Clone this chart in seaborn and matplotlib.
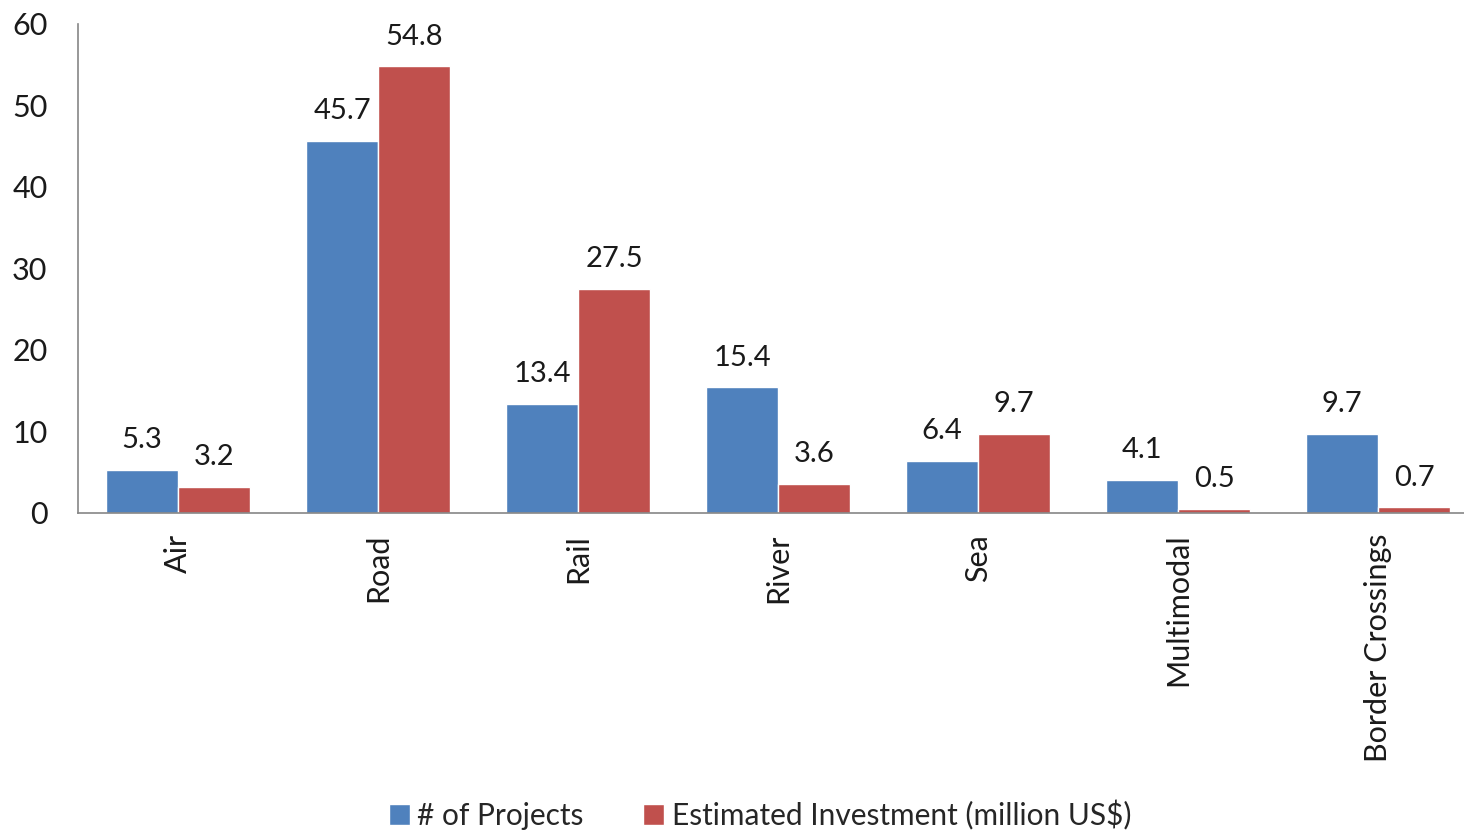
import matplotlib
matplotlib.use("Agg")
import matplotlib.pyplot as plt
import seaborn as sns
import pandas as pd

categories = ["Air", "Road", "Rail", "River", "Sea", "Multimodal", "Border Crossings"]
projects = [5.3, 45.7, 13.4, 15.4, 6.4, 4.1, 9.7]
investment = [3.2, 54.8, 27.5, 3.6, 9.7, 0.5, 0.7]
series_names = ["# of Projects", "Estimated Investment (million US$)"]
colors = ["#4F81BD", "#C0504D"]

df = pd.DataFrame({
    "Category": categories * 2,
    "Value": projects + investment,
    "Series": [series_names[0]] * len(categories) + [series_names[1]] * len(categories),
})

sns.set_style("white")
plt.rcParams["font.family"] = ["Lato", "DejaVu Sans"]

fig = plt.figure(figsize=(14.64, 8.33), dpi=100)
ax = fig.add_axes([0.0533, 0.3842, 0.9563, 0.587])

sns.barplot(data=df, x="Category", y="Value", hue="Series", palette=colors,
            width=0.72, saturation=1, ax=ax, order=categories, hue_order=series_names)

for cont in ax.containers:
    ax.bar_label(cont, fmt="%.1f", padding=12, fontsize=21, color="#1a1a1a")

ax.set_ylim(0, 60)
ax.set_xlim(-0.5, 6.5)
ax.set_yticks(range(0, 61, 10))
ax.set_xlabel("")
ax.set_ylabel("")
ax.tick_params(axis="y", labelsize=22, length=0, pad=22, colors="#1a1a1a")
ax.tick_params(axis="x", labelsize=22, length=0, pad=15, colors="#1a1a1a", rotation=90)

for s in ["top", "right"]:
    ax.spines[s].set_visible(False)
for s in ["left", "bottom"]:
    ax.spines[s].set_color("#868686")
    ax.spines[s].set_linewidth(1.2)

handles, labels = ax.get_legend_handles_labels()
ax.legend(handles, labels, loc="center", bbox_to_anchor=(760 / 1464, 1 - 815 / 833),
          bbox_transform=fig.transFigure, ncol=2, frameon=False, fontsize=21.5,
          handlelength=0.7, handleheight=0.7, handletextpad=0.25, columnspacing=2.0)

fig.savefig("out.png", dpi=100)
